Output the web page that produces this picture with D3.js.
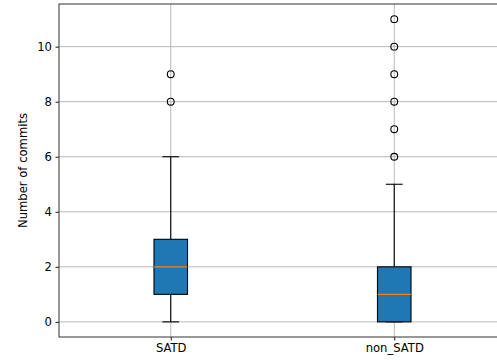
<!DOCTYPE html>
<html>
<head>
<meta charset="utf-8">
<script src="https://cdn.jsdelivr.net/npm/d3@7"></script>
<style>
body { margin: 0; background: #fff; }
text { font-family: "DejaVu Sans", sans-serif; }
</style>
</head>
<body>
<div id="chart"></div>
<script>
// box stats
var groups = ["SATD", "non_SATD"];
var whiskLow = [0, 0];
var q1 = [1, 0];
var medians = [2, 1];
var q3 = [3, 2];
var whiskHigh = [6, 5];
var fliers = [[8, 9], [6, 7, 8, 9, 10, 11]];
var yTicks = [0, 2, 4, 6, 8, 10];

var margin = {top: 4, left: 59, bottom: 23, right: -9};
var width = 497 - margin.left - margin.right;
var height = 360 - margin.top - margin.bottom;

var svg = d3.select("#chart")
    .append("svg")
    .attr("width", 497)
    .attr("height", 360)
    .append("g")
    .attr("transform", `translate(${margin.left},${margin.top})`);

var x = d3.scaleLinear().domain([0.5, 2.5]).range([0, width]);
var y = d3.scaleLinear().domain([-0.55, 11.55]).range([height, 0]);

var boxes = groups.map((g, i) => ({
    name: g, pos: i + 1, lo: whiskLow[i], q1: q1[i], med: medians[i],
    q3: q3[i], hi: whiskHigh[i], out: fliers[i]
}));

// grid
svg.append("g").selectAll("line").data(yTicks).enter()
    .append("line")
    .attr("x1", 0).attr("x2", width)
    .attr("y1", d => y(d)).attr("y2", d => y(d))
    .attr("stroke", "#b0b0b0").attr("stroke-width", 0.9);
svg.append("g").selectAll("line").data(boxes).enter()
    .append("line")
    .attr("x1", d => x(d.pos)).attr("x2", d => x(d.pos))
    .attr("y1", 0).attr("y2", height)
    .attr("stroke", "#b0b0b0").attr("stroke-width", 0.9);

var bw = 0.15;
var g = svg.append("g").selectAll("g").data(boxes).enter().append("g");

g.append("line")
    .attr("x1", d => x(d.pos)).attr("x2", d => x(d.pos))
    .attr("y1", d => y(d.lo)).attr("y2", d => y(d.q1))
    .attr("stroke", "#000").attr("stroke-width", 1.1);
g.append("line")
    .attr("x1", d => x(d.pos)).attr("x2", d => x(d.pos))
    .attr("y1", d => y(d.q3)).attr("y2", d => y(d.hi))
    .attr("stroke", "#000").attr("stroke-width", 1.1);
g.append("line")
    .attr("x1", d => x(d.pos - bw / 4)).attr("x2", d => x(d.pos + bw / 4))
    .attr("y1", d => y(d.lo)).attr("y2", d => y(d.lo))
    .attr("stroke", "#000").attr("stroke-width", 1.1);
g.append("line")
    .attr("x1", d => x(d.pos - bw / 4)).attr("x2", d => x(d.pos + bw / 4))
    .attr("y1", d => y(d.hi)).attr("y2", d => y(d.hi))
    .attr("stroke", "#000").attr("stroke-width", 1.1);

g.append("rect")
    .attr("x", d => x(d.pos - bw / 2))
    .attr("width", d => x(d.pos + bw / 2) - x(d.pos - bw / 2))
    .attr("y", d => y(d.q3))
    .attr("height", d => y(d.q1) - y(d.q3))
    .attr("fill", "#1f77b4").attr("stroke", "#000").attr("stroke-width", 1.1);

g.append("line")
    .attr("x1", d => x(d.pos - bw / 2)).attr("x2", d => x(d.pos + bw / 2))
    .attr("y1", d => y(d.med)).attr("y2", d => y(d.med))
    .attr("stroke", "#ff7f0e").attr("stroke-width", 1.3);

g.selectAll("circle").data(d => d.out.map(v => ({pos: d.pos, v: v}))).enter()
    .append("circle")
    .attr("cx", d => x(d.pos)).attr("cy", d => y(d.v))
    .attr("r", 3.4)
    .attr("fill", "none").attr("stroke", "#000").attr("stroke-width", 1.1);

// axes
var yAxis = svg.append("g")
    .call(d3.axisLeft(y).tickValues(yTicks).tickSize(3.5).tickPadding(3.5));
var xAxis = svg.append("g")
    .attr("transform", `translate(0,${height})`)
    .call(d3.axisBottom(x).tickValues([1, 2]).tickFormat((d, i) => groups[i]).tickSize(3.5).tickPadding(3.5));

[yAxis, xAxis].forEach(a => {
    a.select(".domain").remove();
    a.selectAll("line").attr("stroke", "#000").attr("stroke-width", 0.9);
    a.selectAll("text").attr("font-size", "11.6px").attr("fill", "#000")
        .style("font-family", "DejaVu Sans");
});

svg.append("rect")
    .attr("x", 0).attr("y", 0)
    .attr("width", width).attr("height", height)
    .attr("fill", "none").attr("stroke", "#333").attr("stroke-width", 1);

svg.append("text")
    .attr("transform", "rotate(-90)")
    .attr("text-anchor", "middle")
    .attr("x", -height / 2)
    .attr("y", -32)
    .attr("font-size", "11.6px")
    .text("Number of commits");
</script>
</body>
</html>
